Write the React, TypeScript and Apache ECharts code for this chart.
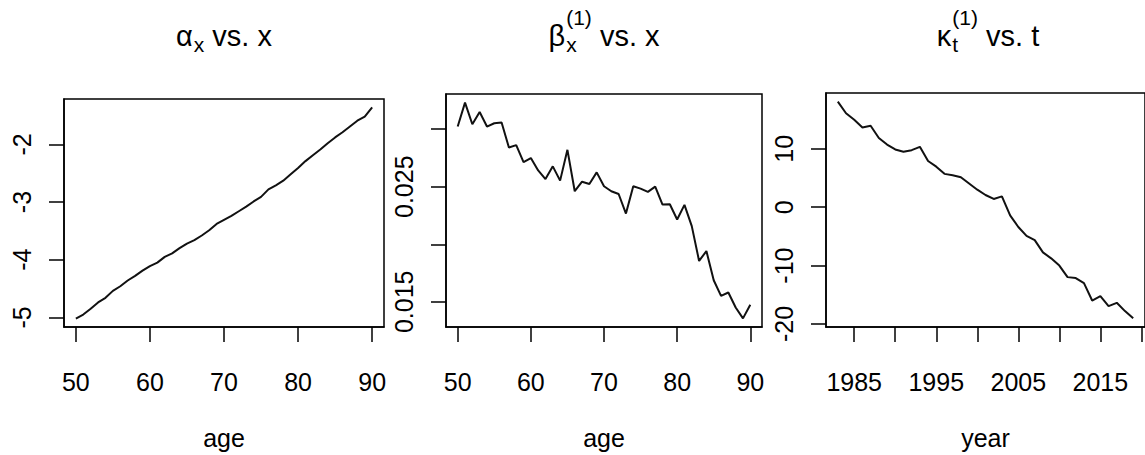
import React, { useEffect, useRef } from "react";
import * as echarts from "echarts";

const ages = [50, 51, 52, 53, 54, 55, 56, 57, 58, 59, 60, 61, 62, 63, 64, 65, 66, 67, 68, 69, 70, 71, 72, 73, 74, 75, 76, 77, 78, 79, 80, 81, 82, 83, 84, 85, 86, 87, 88, 89, 90];
const years = [1983, 1984, 1985, 1986, 1987, 1988, 1989, 1990, 1991, 1992, 1993, 1994, 1995, 1996, 1997, 1998, 1999, 2000, 2001, 2002, 2003, 2004, 2005, 2006, 2007, 2008, 2009, 2010, 2011, 2012, 2013, 2014, 2015, 2016, 2017, 2018, 2019];

const alphaX = [-5.02, -4.95, -4.85, -4.74, -4.66, -4.54, -4.46, -4.36, -4.28, -4.19, -4.11, -4.05, -3.95, -3.89, -3.80, -3.72, -3.66, -3.58, -3.49, -3.38, -3.31, -3.24, -3.16, -3.08, -2.99, -2.91, -2.78, -2.71, -2.63, -2.52, -2.41, -2.29, -2.19, -2.09, -1.98, -1.88, -1.79, -1.69, -1.59, -1.52, -1.36];
const betaX = [0.03023, 0.03231, 0.03043, 0.0315, 0.03023, 0.03052, 0.03058, 0.02841, 0.02862, 0.02714, 0.02749, 0.02642, 0.02567, 0.02677, 0.02553, 0.02821, 0.02461, 0.02544, 0.02524, 0.02625, 0.02504, 0.02461, 0.02437, 0.02267, 0.02504, 0.02484, 0.02455, 0.02501, 0.02345, 0.02348, 0.02215, 0.02342, 0.02158, 0.01855, 0.01941, 0.01687, 0.01552, 0.01581, 0.01451, 0.01356, 0.01474];
const kappaT = [18.08, 16.1, 14.97, 13.67, 13.95, 11.86, 10.73, 9.89, 9.49, 9.77, 10.34, 7.91, 6.95, 5.71, 5.48, 5.14, 4.07, 3.0, 2.09, 1.41, 1.86, -1.41, -3.39, -4.92, -5.65, -7.74, -8.76, -10.0, -11.98, -12.15, -13.0, -15.99, -15.25, -16.95, -16.38, -17.8, -19.04];

const ageTicks = [50, 60, 70, 80, 90];
const yearTicks = [1985, 1990, 1995, 2000, 2005, 2010, 2015, 2020];
const yearLabels = [1985, 1995, 2005, 2015];
const alphaTicks = [-5, -4, -3, -2];
const betaTicks = [0.015, 0.02, 0.025, 0.03];
const betaLabels = [0.015, 0.025];
const kappaTicks = [-20, -10, 0, 10];

const FONT = "Liberation Sans";
const INK = "#000";
const LABEL_FS = 25;

function padRange(vals: number[]) {
  const lo = Math.min(...vals);
  const hi = Math.max(...vals);
  const d = (hi - lo) * 0.04;
  return [lo - d, hi + d];
}

let ctx: CanvasRenderingContext2D | null = null;
function measure(text: string, fs: number) {
  if (!ctx) ctx = document.createElement("canvas").getContext("2d");
  ctx!.font = `${fs}px "${FONT}"`;
  return ctx!.measureText(text).width;
}

function titleEls(cx: number, base: string, sub: string, sup: string, rest: string) {
  const fs = 29;
  const ss = 21;
  const wb = measure(base, fs);
  const ws = measure(sub, ss);
  const wsp = sup ? measure(sup, ss) : 0;
  const sw = Math.max(ws, wsp) + 1;
  const wr = measure(rest, fs);
  const x0 = cx - (wb + sw + wr) / 2;
  const bl = 46;
  const mid = (b: number, s: number) => b - 0.35 * s;
  const mk = (x: number, y: number, text: string, size: number) => ({
    type: "text",
    x,
    y,
    style: { text, fontSize: size, fontFamily: FONT, fill: INK, align: "left", verticalAlign: "middle" },
  });
  const els: any[] = [mk(x0, mid(bl, fs), base, fs), mk(x0 + wb + 1, mid(bl + 6, ss), sub, ss)];
  if (sup) els.push(mk(x0 + wb + 1, mid(bl - 21, ss), sup, ss));
  els.push(mk(x0 + wb + sw, mid(bl, fs), rest, fs));
  return els;
}

function xAxisCfg(gi: number, range: number[], ticks: number[], labels: number[], name: string) {
  return {
    type: "value",
    gridIndex: gi,
    min: range[0],
    max: range[1],
    axisLine: { show: true, onZero: false, lineStyle: { color: INK, width: 1.5 } },
    axisTick: { show: true, inside: false, length: 15, customValues: ticks, lineStyle: { color: INK, width: 1.5 } },
    axisLabel: {
      show: true,
      customValues: labels,
      margin: 42,
      fontSize: LABEL_FS,
      fontFamily: FONT,
      color: INK,
      formatter: (v: number) => String(v),
    },
    splitLine: { show: false },
    name,
    nameLocation: "middle",
    nameGap: 98,
    nameTextStyle: { fontSize: LABEL_FS, fontFamily: FONT, color: INK },
  };
}

function yAxisCfg(gi: number, range: number[], ticks: number[], labels: number[], fmt: (v: number) => string) {
  return {
    type: "value",
    gridIndex: gi,
    min: range[0],
    max: range[1],
    axisLine: { show: true, onZero: false, lineStyle: { color: INK, width: 1.5 } },
    axisTick: { show: true, inside: false, length: 15, customValues: ticks, lineStyle: { color: INK, width: 1.5 } },
    axisLabel: {
      show: true,
      customValues: labels,
      rotate: 90,
      align: "center",
      verticalAlign: "bottom",
      margin: 30,
      fontSize: LABEL_FS,
      fontFamily: FONT,
      color: INK,
      formatter: fmt,
    },
    splitLine: { show: false },
  };
}

export default function App() {
  const ref = useRef<HTMLDivElement>(null);
  useEffect(() => {
    document.body.style.margin = "0";
    const chart = echarts.init(ref.current!, null, { renderer: "svg" });
    const ageRange = padRange(ages);
    const yearRange = padRange(years);
    const gridBase = { show: true, borderColor: INK, borderWidth: 1.5, backgroundColor: "transparent", containLabel: false };
    const line = (xi: number, xs: number[], ys: number[]) => ({
      type: "line",
      xAxisIndex: xi,
      yAxisIndex: xi,
      data: xs.map((x, i) => [x, ys[i]]),
      showSymbol: false,
      symbol: "none",
      lineStyle: { color: "#111", width: 2 },
      silent: true,
    });
    chart.setOption({
      animation: false,
      backgroundColor: "#fff",
      grid: [
        { ...gridBase, left: 64, top: 99, width: 320, height: 232 },
        { ...gridBase, left: 446, top: 94, width: 316, height: 234 },
        { ...gridBase, left: 826, top: 93, width: 325, height: 235 },
      ],
      xAxis: [
        xAxisCfg(0, ageRange, ageTicks, ageTicks, "age"),
        xAxisCfg(1, ageRange, ageTicks, ageTicks, "age"),
        xAxisCfg(2, yearRange, yearTicks, yearLabels, "year"),
      ],
      yAxis: [
        yAxisCfg(0, padRange(alphaX), alphaTicks, alphaTicks, (v) => String(v)),
        yAxisCfg(1, padRange(betaX), betaTicks, betaLabels, (v) => v.toFixed(3)),
        yAxisCfg(2, padRange(kappaT), kappaTicks, kappaTicks, (v) => String(v)),
      ],
      series: [line(0, ages, alphaX), line(1, ages, betaX), line(2, years, kappaT)],
      graphic: [
        ...titleEls(224, "α", "x", "", " vs. x"),
        ...titleEls(604, "β", "x", "(1)", " vs. x"),
        ...titleEls(988, "κ", "t", "(1)", " vs. t"),
      ],
    });
    return () => chart.dispose();
  }, []);
  return <div ref={ref} style={{ width: 1145, height: 455 }} />;
}
